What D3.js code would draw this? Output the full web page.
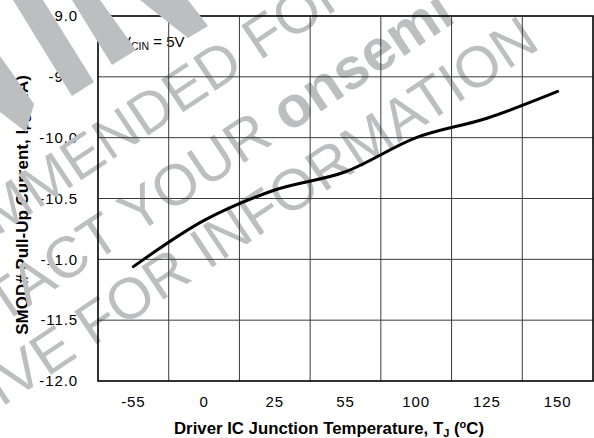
<!DOCTYPE html>
<html>
<head>
<meta charset="utf-8">
<script src="https://cdn.jsdelivr.net/npm/d3@7"></script>
<style>
  html, body { margin: 0; padding: 0; background: #fff; }
  svg { display: block; font-family: "Liberation Sans", Arial, sans-serif; }
</style>
</head>
<body>
<svg id="chart" width="594" height="438"></svg>
<script>
// ---- data ----
const temperatures = ["-55", "0", "25", "55", "100", "125", "150"];
const pullUpCurrent = [-11.06, -10.68, -10.43, -10.28, -10.00, -9.84, -9.62];
const yTicks = [-9.0, -9.5, -10.0, -10.5, -11.0, -11.5, -12.0];
const yDomain = [-12.0, -9.0];
const watermarkLines = [
  { parts: [["NOT RECOMMENDED", "end", false], ["FOR NEW DESIGN", "start", false]] },
  { parts: [["CONTACT YOUR", "end", false], ["onsemi", "start", true]] },
  { parts: [["REPRESENTATIVE FOR", "end", false], ["INFORMATION", "start", false]] }
];

// ---- layout ----
const W = 594, H = 438;
const m = { left: 98, right: 1, top: 16, bottom: 57 };
const svg = d3.select("#chart");
const x = d3.scaleBand().domain(temperatures).range([m.left, W - m.right]).paddingInner(0).paddingOuter(0);
const y = d3.scaleLinear().domain(yDomain).range([H - m.bottom, m.top]);

const gLabels = svg.append("g");
const gWm = svg.append("g");
const gPlot = svg.append("g");
const gTop = svg.append("g");

// tick labels
const yAxis = gLabels.append("g")
  .attr("transform", `translate(${m.left},0)`)
  .call(d3.axisLeft(y).tickValues(yTicks).tickSize(0).tickPadding(20).tickFormat(d => d.toFixed(1)));
yAxis.select(".domain").remove();
yAxis.selectAll("text").attr("font-size", 15).attr("letter-spacing", 0.9).attr("fill", "#000")
  .attr("font-family", "Liberation Sans, Arial, sans-serif");

const xAxis = gLabels.append("g")
  .attr("transform", `translate(0,${H - m.bottom})`)
  .call(d3.axisBottom(x).tickSize(0).tickPadding(15));
xAxis.select(".domain").remove();
xAxis.selectAll("text").attr("font-size", 15).attr("letter-spacing", 0.9).attr("fill", "#000")
  .attr("font-family", "Liberation Sans, Arial, sans-serif");

// axis titles
const xt = gLabels.append("text")
  .attr("x", 329).attr("y", 434).attr("text-anchor", "middle")
  .attr("font-size", 16.8).attr("font-weight", "bold");
xt.append("tspan").text("Driver IC Junction Temperature, T");
xt.append("tspan").attr("font-size", 11).attr("dy", 3).text("J");
xt.append("tspan").attr("dy", -3).text(" (");
xt.append("tspan").attr("font-size", 11).attr("dy", -6).text("o");
xt.append("tspan").attr("dy", 6).text("C)");

const yt = gLabels.append("text")
  .attr("transform", "translate(28,205) rotate(-90)").attr("text-anchor", "middle")
  .attr("font-size", 17).attr("font-weight", "bold");
yt.append("tspan").text("SMOD# Pull-Up Current, I");
yt.append("tspan").attr("font-size", 11.5).attr("dy", 3).text("PU");
yt.append("tspan").attr("dy", -3).text(" (uA)");

// annotation
const ann = gLabels.append("text").attr("x", 121).attr("y", 47).attr("font-size", 15);
ann.append("tspan").text("V");
ann.append("tspan").attr("font-size", 10.5).attr("dy", 3).text("CIN");
ann.append("tspan").attr("dy", -3).text(" = 5V");

// watermark text
const wmg = gWm.append("g").attr("transform", "translate(211,268) rotate(-33.7)")
  .attr("fill", "#bcbec0").attr("font-size", 58);
const lineY = [-145, -69, 0];
const splitX = [155, 139, -4];
watermarkLines.forEach((ln, i) => {
  ln.parts.forEach(([t, anchor, bold]) => {
    wmg.append("text")
      .attr("x", anchor === "end" ? splitX[i] - 16 : splitX[i])
      .attr("y", lineY[i])
      .attr("text-anchor", anchor)
      .attr("font-weight", bold ? "bold" : "normal")
      .text(t);
  });
});

// grid
const bounds = temperatures.slice(1).map(t => x(t));
gPlot.selectAll("line.v").data(bounds).join("line")
  .attr("x1", d => d).attr("x2", d => d)
  .attr("y1", m.top).attr("y2", H - m.bottom)
  .attr("stroke", "#3a3a3a").attr("stroke-width", 1);
gPlot.selectAll("line.h").data(yTicks.slice(1, -1)).join("line")
  .attr("x1", m.left).attr("x2", W - m.right)
  .attr("y1", d => y(d)).attr("y2", d => y(d))
  .attr("stroke", "#3a3a3a").attr("stroke-width", 1);
gPlot.append("rect")
  .attr("x", m.left).attr("y", m.top)
  .attr("width", W - m.left - m.right).attr("height", H - m.top - m.bottom)
  .attr("fill", "none").attr("stroke", "#000").attr("stroke-width", 1.6);

// curve
const line = d3.line()
  .x((d, i) => x(temperatures[i]) + x.bandwidth() / 2)
  .y(d => y(d))
  .curve(d3.curveMonotoneX);
gPlot.append("path").datum(pullUpCurrent)
  .attr("d", line).attr("fill", "none")
  .attr("stroke", "#000").attr("stroke-width", 3).attr("stroke-linecap", "round");

// watermark stripes (decorative)
const stripes = [
  [[13,0],[43,0],[94,82],[72,96]],
  [[72,0],[100,0],[136,50],[112,65]],
  [[140,0],[188,0],[208,26],[188,38]],
  [[0,56],[34,104],[26,132],[0,112]]
];
gTop.selectAll("polygon").data(stripes).join("polygon")
  .attr("points", d => d.map(p => p.join(",")).join(" "))
  .attr("fill", "#bcbec0");
</script>
</body>
</html>
